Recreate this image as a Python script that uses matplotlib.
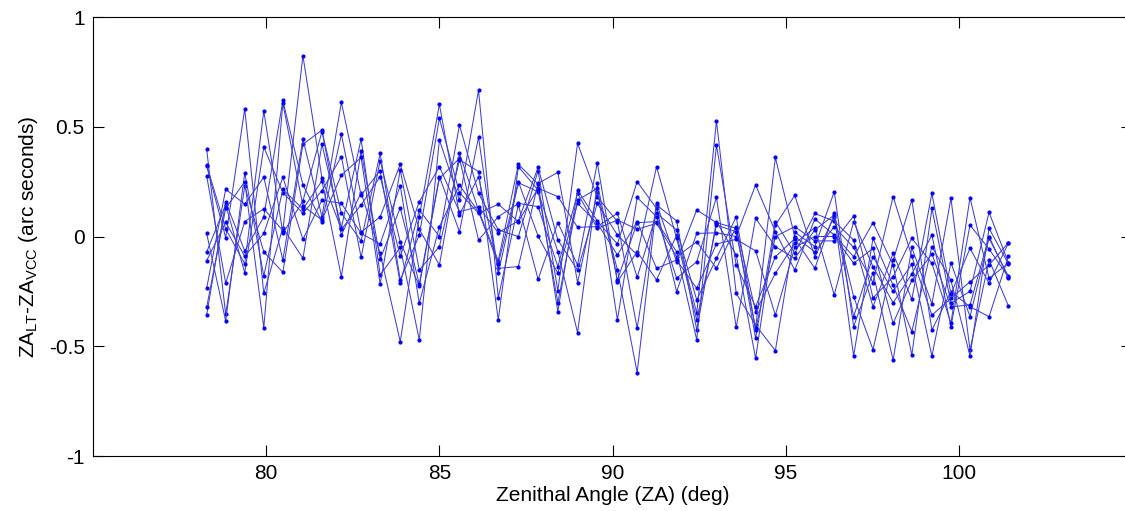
"""ZA difference (LT - VCC) versus zenithal angle, MATLAB-style line plot."""

import matplotlib

matplotlib.use("Agg")
import matplotlib.pyplot as plt
import numpy as np

plt.rcParams["font.family"] = ["Liberation Sans", "DejaVu Sans"]
plt.rcParams["mathtext.fontset"] = "custom"
plt.rcParams["mathtext.rm"] = "Liberation Sans"
plt.rcParams["mathtext.it"] = "Liberation Sans"

# zenithal angle of each measurement set (deg)
zenith_angle = [
    78.28, 78.83, 79.38, 79.93, 80.48, 81.06, 81.61, 82.17, 82.74, 83.29,
    83.87, 84.42, 85.00, 85.58, 86.13, 86.70, 87.28, 87.85, 88.42, 88.99,
    89.56, 90.14, 90.71, 91.27, 91.85, 92.43, 93.00, 93.57, 94.13, 94.70,
    95.26, 95.84, 96.40, 96.96, 97.52, 98.10, 98.64, 99.22, 99.77, 100.32,
    100.87, 101.43,
]

# ZA_LT - ZA_VCC (arc seconds); one row per angle, one column per series
za_diff = [
    [0.399, -0.071, -0.358, 0.321, -0.236, 0.014, 0.326, -0.323, 0.277, -0.110],
    [-0.355, 0.145, 0.158, -0.005, 0.215, -0.385, 0.035, 0.128, -0.213, 0.065],
    [0.23, -0.165, -0.066, 0.582, 0.148, 0.29, -0.125, 0.25, 0.068, -0.09],
    [-0.07, 0.408, 0.09, -0.259, 0.27, -0.179, 0.572, -0.415, 0.126, 0.014],
    [-0.163, 0.20, 0.62, 0.04, -0.107, 0.215, 0.014, 0.607, 0.027, 0.27],
    [0.42, 0.106, 0.235, -0.099, 0.443, 0.125, 0.162, 0.14, 0.824, -0.013],
    [0.485, 0.209, 0.068, 0.421, 0.09, 0.254, 0.478, 0.075, 0.265, 0.166],
    [0.007, 0.364, 0.465, 0.04, 0.611, -0.183, 0.106, 0.28, 0.033, 0.151],
    [0.2, -0.095, 0.02, 0.444, 0.189, 0.39, -0.02, 0.36, 0.144, 0.014],
    [-0.077, 0.346, 0.09, -0.175, 0.30, -0.103, 0.379, -0.216, 0.273, -0.034],
    [-0.479, -0.024, 0.329, -0.05, -0.213, 0.131, -0.198, 0.303, -0.09, 0.232],
    [0.09, -0.225, 0.033, -0.471, 0.121, -0.216, 0.007, -0.152, 0.159, -0.304],
    [0.602, 0.265, -0.13, 0.44, 0.0, 0.273, 0.538, -0.046, 0.318, 0.045],
    [0.1, 0.356, 0.379, 0.166, 0.508, 0.022, 0.2, 0.35, 0.113, 0.234],
    [0.273, -0.016, 0.12, 0.667, 0.197, 0.452, 0.106, 0.296, 0.136, 0.113],
    [-0.145, 0.09, -0.11, -0.279, 0.03, -0.168, 0.147, -0.38, 0.017, -0.125],
    [-0.137, 0.151, 0.329, 0.144, 0.0, 0.245, 0.068, 0.318, 0.072, 0.25],
    [0.242, 0.136, 0.239, -0.195, 0.3, 0.204, 0.22, 0.212, 0.315, 0.002],
    [0.292, -0.137, -0.342, 0.063, -0.247, -0.069, 0.182, -0.301, -0.016, -0.168],
    [-0.21, 0.197, 0.212, -0.13, 0.424, -0.438, 0.042, 0.166, -0.153, 0.151],
    [0.201, 0.037, 0.07, 0.336, 0.18, 0.242, 0.045, 0.219, 0.151, 0.06],
    [-0.152, 0.075, -0.034, -0.206, 0.068, -0.198, 0.106, -0.38, 0.007, -0.084],
    [-0.62, 0.033, 0.25, -0.069, -0.418, 0.063, -0.186, 0.178, -0.084, 0.068],
    [0.144, 0.06, 0.128, -0.198, 0.151, 0.068, 0.106, 0.09, 0.318, -0.145],
    [0.071, -0.092, -0.251, 0.007, -0.115, -0.069, 0.03, -0.19, -0.008, -0.107],
    [-0.425, -0.024, 0.014, -0.349, 0.121, -0.471, -0.289, -0.115, -0.38, -0.236],
    [0.068, -0.145, 0.017, 0.526, 0.063, 0.417, -0.099, 0.178, 0.052, -0.034],
    [-0.084, 0.045, 0.0, -0.259, 0.037, -0.13, 0.09, -0.414, 0.022, -0.013],
    [-0.555, -0.342, 0.235, -0.403, -0.464, -0.32, -0.426, 0.083, -0.418, -0.065],
    [0.052, -0.168, 0.022, -0.52, 0.068, -0.092, 0.0, -0.046, 0.36, -0.358],
    [0.187, -0.031, -0.153, 0.02, -0.077, -0.01, 0.045, -0.1, 0.0, -0.05],
    [-0.092, 0.04, 0.08, -0.046, 0.105, -0.145, -0.02, 0.03, -0.07, 0.0],
    [0.09, -0.266, 0.007, 0.204, 0.07, 0.105, -0.02, 0.098, 0.045, 0.0],
    [-0.274, 0.068, -0.092, -0.41, -0.016, -0.365, 0.093, -0.544, -0.05, -0.122],
    [-0.515, -0.138, 0.063, -0.165, -0.32, -0.092, -0.28, -0.008, -0.21, -0.054],
    [-0.108, -0.302, -0.13, -0.563, -0.077, -0.25, -0.184, -0.222, 0.182, -0.396],
    [0.166, -0.171, -0.54, -0.05, -0.286, -0.126, -0.008, -0.433, -0.09, -0.2],
    [-0.426, 0.007, 0.128, -0.307, 0.196, -0.544, -0.122, -0.046, -0.358, -0.08],
    [-0.251, -0.41, -0.304, 0.174, -0.262, -0.119, -0.395, -0.2, -0.282, -0.32],
    [-0.32, 0.052, -0.25, -0.517, -0.054, -0.365, 0.177, -0.544, -0.206, -0.312],
    [-0.365, -0.057, 0.11, -0.107, -0.213, -0.008, -0.19, 0.037, -0.13, 0.0],
    [-0.09, -0.185, -0.12, -0.316, -0.03, -0.182, -0.122, -0.125, -0.028, -0.19],
]

x_ticks = [80, 85, 90, 95, 100]
y_ticks = [-1, -0.5, 0, 0.5, 1]
y_tick_labels = ["-1", "-0.5", "0", "0.5", "1"]

if __name__ == "__main__":
    data = np.array(za_diff)
    figure = plt.figure(figsize=(11.25, 5.11), dpi=100)
    axes = figure.add_axes([0.0827, 0.1076, 0.9236, 0.8591])

    for k in range(data.shape[1]):
        axes.plot(
            zenith_angle,
            data[:, k],
            color=(0.25, 0.25, 0.82),
            linewidth=0.75,
            marker=".",
            markersize=4,
            markerfacecolor=(0.0, 0.0, 1.0),
            markeredgecolor=(0.0, 0.0, 1.0),
        )

    axes.set_xlim(75, 105)
    axes.set_ylim(-1, 1)
    axes.set_xticks(x_ticks)
    axes.set_yticks(y_ticks)
    axes.set_yticklabels(y_tick_labels)
    axes.tick_params(
        direction="in", length=8, width=0.8, labelsize=15,
        top=True, right=True, pad=6,
    )
    for spine in axes.spines.values():
        spine.set_linewidth(0.8)

    axes.set_xlabel("Zenithal Angle (ZA) (deg)", fontsize=15, labelpad=2)
    axes.set_ylabel(
        r"ZA$_{\mathrm{LT}}$-ZA$_{\mathrm{VCC}}$ (arc seconds)",
        fontsize=15, labelpad=6,
    )

    figure.savefig("out.png", dpi=100)
